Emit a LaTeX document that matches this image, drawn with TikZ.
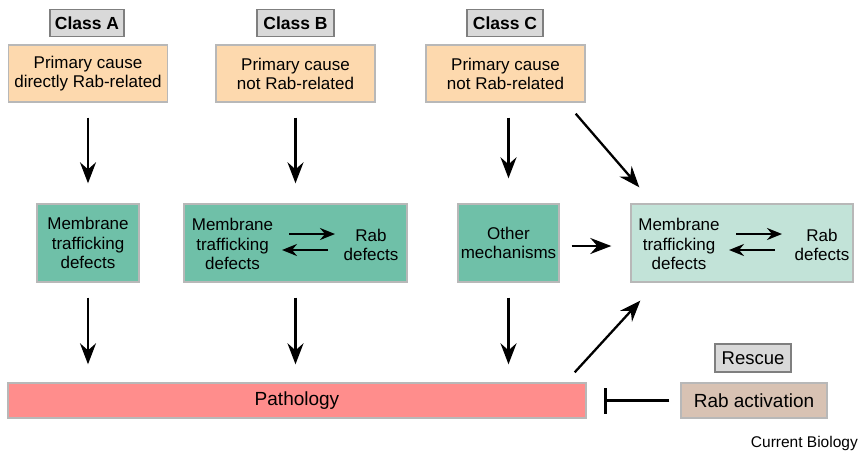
\documentclass[tikz,border=0pt]{standalone}
\usepackage{fontspec}
\setmainfont{Liberation Sans}
\usetikzlibrary{arrows.meta,calc}
\definecolor{classgray}{HTML}{D9D9D9}
\definecolor{classedge}{HTML}{7F7F7F}
\definecolor{peach}{HTML}{FDD9AE}
\definecolor{softedge}{HTML}{B8B8B8}
\definecolor{teal}{HTML}{6FC0A8}
\definecolor{lightteal}{HTML}{C2E3D8}
\definecolor{patho}{HTML}{FF8D8C}
\definecolor{rabact}{HTML}{D8C2B3}
\begin{document}
\begin{tikzpicture}[x=1pt,y=-1pt,
  classbox/.style={draw=classedge,fill=classgray,line width=1.4pt,inner sep=0pt,
    font=\fontsize{17.5}{20}\selectfont\bfseries},
  causebox/.style={draw=softedge,fill=peach,line width=1.4pt,inner sep=0pt,align=center,
    minimum width=159pt,minimum height=57pt,font=\fontsize{17}{19}\selectfont},
  mechbox/.style={draw=softedge,fill=teal,line width=1.4pt,inner sep=0pt,align=center,
    minimum height=78pt,font=\fontsize{17}{19.5}\selectfont},
  lbl/.style={inner sep=0pt,align=center,font=\fontsize{17}{19.5}\selectfont},
  arr/.style={line width=2.3pt,-{Stealth[length=21pt,width=16pt,inset=7pt]}},
  arrsmall/.style={line width=2.4pt,-{Stealth[length=15pt,width=12pt,inset=5pt]}}
]
\useasboundingbox (0,0) rectangle (859,451);

% class labels
\node[classbox,minimum width=74pt,minimum height=27pt] (cA) at (87,23) {Class A};
\node[classbox,minimum width=77pt,minimum height=27pt] (cB) at (295.5,23) {Class B};
\node[classbox,minimum width=76pt,minimum height=27pt] (cC) at (505,23) {Class C};

% primary causes
\node[causebox] (PA) at (88,73.5) {Primary cause\\directly Rab-related};
\node[causebox] (PB) at (295.5,73.5) {Primary cause\\not Rab-related};
\node[causebox] (PC) at (505.5,73.5) {Primary cause\\not Rab-related};

% mechanism boxes
\node[mechbox,minimum width=102pt] (MA) at (88,243) {Membrane\\trafficking\\defects};
\node[mechbox,minimum width=223pt] (MB) at (295.5,243) {};
\node[mechbox,minimum width=101pt] (OM) at (508.5,243) {Other\\mechanisms};
\node[mechbox,fill=lightteal,minimum width=222pt] (ML) at (742,243) {};

\node[lbl] (mtB) at (232.5,244) {Membrane\\trafficking\\defects};
\node[lbl] (rdB) at (371,245) {Rab\\defects};
\node[lbl] (mtL) at (679,244) {Membrane\\trafficking\\defects};
\node[lbl] (rdL) at (822,245) {Rab\\defects};

% pathology and rescue
\node[draw=softedge,fill=patho,line width=1.4pt,minimum width=578pt,minimum height=35pt,
  inner sep=0pt,font=\fontsize{19}{22}\selectfont] (Path) at (297,400.5) {Pathology};
\node[classbox,font=\fontsize{18.5}{21}\selectfont,minimum width=76pt,minimum height=28pt]
  (Res) at (753,358) {Rescue};
\node[draw=softedge,fill=rabact,line width=1.4pt,minimum width=146pt,minimum height=35pt,
  inner sep=0pt,font=\fontsize{19}{22}\selectfont] (RA) at (754,400.5) {Rab activation};

\node[anchor=east,inner sep=0pt,font=\fontsize{15.5}{17}\selectfont] (cb) at (858,443) {Current Biology};

% arrows cause -> mechanism
\draw[arr,shorten <=15pt,shorten >=20pt] (PA.south) -- (MA.north);
\draw[arr,shorten <=15pt,shorten >=20pt] (PB.south) -- (MB.north);
\draw[arr,shorten <=15pt,shorten >=25pt] (OM.north |- PC.south) -- (OM.north);
\draw[arr] ($(PC.south east)+(-10,11)$) -- ($(ML.north west)+(9,-16)$);

% inner reversible arrows
\draw[arrsmall] ($(MB.center)+(-6.5,-9)$) -- ($(MB.center)+(39.5,-9)$);
\draw[arrsmall] ($(MB.center)+(32.5,7)$) -- ($(MB.center)+(-13.5,7)$);
\draw[arrsmall] ($(ML.center)+(-6,-9)$) -- ($(ML.center)+(40,-9)$);
\draw[arrsmall] ($(ML.center)+(33,7)$) -- ($(ML.center)+(-13,7)$);

% other mechanisms -> light box
\draw[arr,shorten <=12pt,shorten >=19pt] ($(OM.east)+(0,3)$) -- ($(ML.west)+(0,3)$);

% mechanisms -> pathology
\draw[arr,shorten <=15pt,shorten >=18pt] (MA.south) -- (MA.south |- Path.north);
\draw[arr,shorten <=15pt,shorten >=18pt] (MB.south) -- (MB.south |- Path.north);
\draw[arr,shorten <=15pt,shorten >=18pt] (OM.south) -- (OM.south |- Path.north);

% pathology -> light box
\draw[arr] ($(Path.north east)+(-12,-10)$) -- ($(ML.south west)+(10,18)$);

% inhibition
\draw[line width=2.6pt,-{Bar[width=26pt,line width=2.8pt]},shorten <=11pt,shorten >=17pt] (RA.west) -- (Path.east);
\end{tikzpicture}
\end{document}
